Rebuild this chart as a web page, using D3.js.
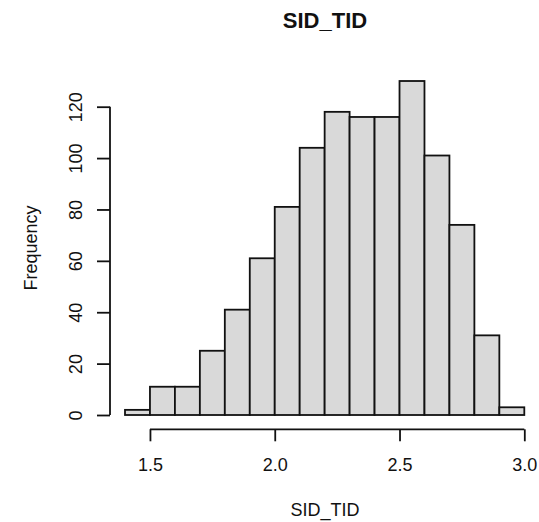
<!DOCTYPE html>
<html>
<head>
<meta charset="utf-8">
<script src="https://cdn.jsdelivr.net/npm/d3@7"></script>
<style>
  body { margin: 0; background: #fff; }
  svg { display: block; font-family: "Liberation Sans", Arial, sans-serif; }
</style>
</head>
<body>
<div class="hist"></div>
<script>
// histogram of SID_TID, bins of width 0.1
const binStarts = [1.4, 1.5, 1.6, 1.7, 1.8, 1.9, 2.0, 2.1, 2.2, 2.3, 2.4, 2.5, 2.6, 2.7, 2.8, 2.9];
const counts = [2, 11, 11, 25, 41, 61, 81, 104, 118, 116, 116, 130, 101, 74, 31, 3];
const binWidth = 0.1;
const xTicks = [1.5, 2.0, 2.5, 3.0];
const yTicks = [0, 20, 40, 60, 80, 100, 120];

const width = 539, height = 522;

const svg = d3.select(".hist")
  .append("svg")
  .attr("width", width)
  .attr("height", height);

// scales (R-like plot region)
const x = d3.scaleLinear().domain([1.4, 3.0]).range([125.0, 524.3]);
const y = d3.scaleLinear().domain([0, 120]).range([415, 106.7]);

// bars
svg.selectAll("rect.bar")
  .data(binStarts)
  .join("rect")
  .attr("class", "bar")
  .attr("x", (d) => x(d))
  .attr("y", (d, i) => y(counts[i]))
  .attr("width", (d) => x(d + binWidth) - x(d))
  .attr("height", (d, i) => y(0) - y(counts[i]))
  .attr("fill", "#d9d9d9")
  .attr("stroke", "#111")
  .attr("stroke-width", 1.8);

// x axis
const xAxisY = 429.3;
const xAxis = svg.append("g")
  .attr("transform", "translate(0," + xAxisY + ")")
  .call(d3.axisBottom(x).tickValues(xTicks).tickFormat(d3.format(".1f")).tickSize(12).tickPadding(17));
xAxis.select(".domain").remove();
xAxis.append("line")
  .attr("x1", x(xTicks[0])).attr("x2", x(xTicks[xTicks.length - 1]))
  .attr("stroke", "#111").attr("stroke-width", 1.8);
xAxis.selectAll(".tick line").attr("stroke", "#111").attr("stroke-width", 1.8);
xAxis.selectAll(".tick text")
  .attr("font-size", 18)
  .attr("fill", "#111")
  .attr("font-family", "Liberation Sans, Arial, sans-serif");

// y axis
const yAxisX = 110;
const yAxis = svg.append("g")
  .attr("transform", "translate(" + yAxisX + ",0)")
  .call(d3.axisLeft(y).tickValues(yTicks).tickSize(13));
yAxis.select(".domain").remove();
yAxis.append("line")
  .attr("y1", y(yTicks[0])).attr("y2", y(yTicks[yTicks.length - 1]))
  .attr("stroke", "#111").attr("stroke-width", 1.8);
yAxis.selectAll(".tick line").attr("stroke", "#111").attr("stroke-width", 1.8);
yAxis.selectAll(".tick text")
  .attr("x", null).attr("dy", null)
  .attr("text-anchor", "middle")
  .attr("transform", "translate(-28,0) rotate(-90)")
  .attr("font-size", 18)
  .attr("fill", "#111")
  .attr("font-family", "Liberation Sans, Arial, sans-serif");

// title and labels
svg.append("text")
  .attr("x", 325)
  .attr("y", 28)
  .attr("text-anchor", "middle")
  .attr("font-size", 22)
  .attr("font-weight", "bold")
  .attr("fill", "#111")
  .text("SID_TID");

svg.append("text")
  .attr("x", 325)
  .attr("y", 516)
  .attr("text-anchor", "middle")
  .attr("font-size", 18)
  .attr("fill", "#111")
  .text("SID_TID");

svg.append("text")
  .attr("transform", "translate(37,248) rotate(-90)")
  .attr("text-anchor", "middle")
  .attr("font-size", 18)
  .attr("fill", "#111")
  .text("Frequency");
</script>
</body>
</html>
